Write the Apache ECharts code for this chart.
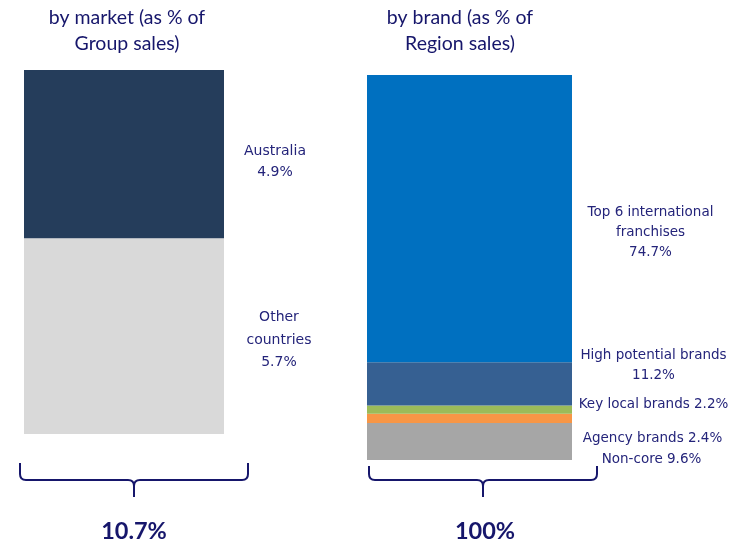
<!DOCTYPE html>
<html>
<head>
<meta charset="utf-8">
<script src="https://cdn.jsdelivr.net/npm/echarts@6/dist/echarts.min.js"></script>
<style>html,body{margin:0;padding:0;background:#fff}#c{width:733px;height:542px}</style>
</head>
<body>
<div id="c"></div>
<script>
// ---- data ----
const marketNames = ['Other\ncountries', 'Australia'];          // bottom -> top
const marketValues = [5.7, 4.9];
const brandNames = ['Non-core', 'Agency brands', 'Key local brands', 'High potential brands\n', 'Top 6 international\nfranchises\n'];
const brandValues = [9.6, 2.4, 2.2, 11.2, 74.7];
const titles = ['by market (as % of\nGroup sales)', 'by brand (as % of\nRegion sales)'];
const totals = ['10.7%', '100%'];

// ---- styles ----
const marketColors = ['#D9D9D9', '#253D5B'];
const brandColors = ['#A6A6A6', '#F79646', '#9BBB59', '#366092', '#0070C0'];
const marketLabelOffsets = [[155, 4], [151, 8]];
const marketLineHeights = [22.5, 21];
const brandLabelOffsets = [[182, 18], [183, 20], [184, -5], [184, -18], [181, 14]];
const navy = '#16166B';
const labelColor = '#24247A';

const G = [
  {left: 24, top: 70, width: 200, height: 364},
  {left: 367, top: 75, width: 205, height: 385}
];

const chart = echarts.init(document.getElementById('c'));
const series = [];
marketValues.forEach((v, i) => {
  series.push({
    type: 'bar', stack: 'm', xAxisIndex: 0, yAxisIndex: 0, barWidth: '100%',
    name: marketNames[i],
    data: [v],
    itemStyle: {color: marketColors[i]},
    label: {
      show: true, position: 'inside', offset: marketLabelOffsets[i],
      align: 'center', verticalAlign: 'middle',
      color: labelColor, fontFamily: 'DejaVu Sans', fontSize: 14, lineHeight: marketLineHeights[i],
      textBorderWidth: 0,
      formatter: p => p.seriesName + '\n' + p.value.toFixed(1) + '%'
    }
  });
});
brandValues.forEach((v, i) => {
  series.push({
    type: 'bar', stack: 'b', xAxisIndex: 1, yAxisIndex: 1, barWidth: '100%',
    name: brandNames[i],
    data: [v],
    itemStyle: {color: brandColors[i]},
    label: {
      show: true, position: 'inside', offset: brandLabelOffsets[i],
      align: 'center', verticalAlign: 'middle',
      color: labelColor, fontFamily: 'DejaVu Sans', fontSize: 13.5, lineHeight: 20,
      textBorderWidth: 0,
      formatter: p => {
        const n = p.seriesName;
        return n.endsWith('\n') ? n + p.value.toFixed(1) + '%' : n + ' ' + p.value.toFixed(1) + '%';
      }
    }
  });
});

function brace(x1, x2, yTop, yLine, yStem) {
  const c = (x1 + x2) / 2, r = 6;
  const st = {stroke: navy, lineWidth: 2, fill: null};
  const L = (a, b, cc, d) => ({type: 'line', shape: {x1: a, y1: b, x2: cc, y2: d}, style: st});
  const Q = (a, b, cx, cy, cc, d) => ({type: 'bezierCurve', shape: {x1: a, y1: b, cpx1: cx, cpy1: cy, x2: cc, y2: d}, style: st});
  return [
    L(x1, yTop, x1, yLine - r),
    Q(x1, yLine - r, x1, yLine, x1 + r, yLine),
    L(x1 + r, yLine, c - r, yLine),
    Q(c - r, yLine, c, yLine, c, yLine + r),
    Q(c + r, yLine, c, yLine, c, yLine + r),
    L(c, yLine + r, c, yStem),
    L(c + r, yLine, x2 - r, yLine),
    Q(x2 - r, yLine, x2, yLine, x2, yLine - r),
    L(x2, yLine - r, x2, yTop)
  ];
}

const txt = (x, y, t, font, extra) => ({type: 'text', x: x, y: y, style: Object.assign({text: t, fill: navy, font: font, align: 'center'}, extra || {})});

chart.setOption({
  animation: false,
  grid: G,
  xAxis: [0, 1].map(i => ({type: 'category', gridIndex: i, data: [''], show: false})),
  yAxis: [
    {type: 'value', gridIndex: 0, min: 0, max: marketValues.reduce((a, b) => a + b, 0), show: false},
    {type: 'value', gridIndex: 1, min: 0, max: brandValues.reduce((a, b) => a + b, 0), show: false}
  ],
  series: series,
  graphic: [
    txt(127, 31, titles[0], '19.5px Lato', {lineHeight: 26, verticalAlign: 'middle'}),
    txt(460, 31, titles[1], '19.5px Lato', {lineHeight: 26, verticalAlign: 'middle'}),
    ...brace(20, 248, 463, 480, 497),
    ...brace(369, 597, 466, 480, 497),
    txt(134, 531, totals[0], 'bold 23.5px Lato', {verticalAlign: 'middle'}),
    txt(485, 531, totals[1], 'bold 23.5px Lato', {verticalAlign: 'middle'})
  ]
});
</script>
</body>
</html>
